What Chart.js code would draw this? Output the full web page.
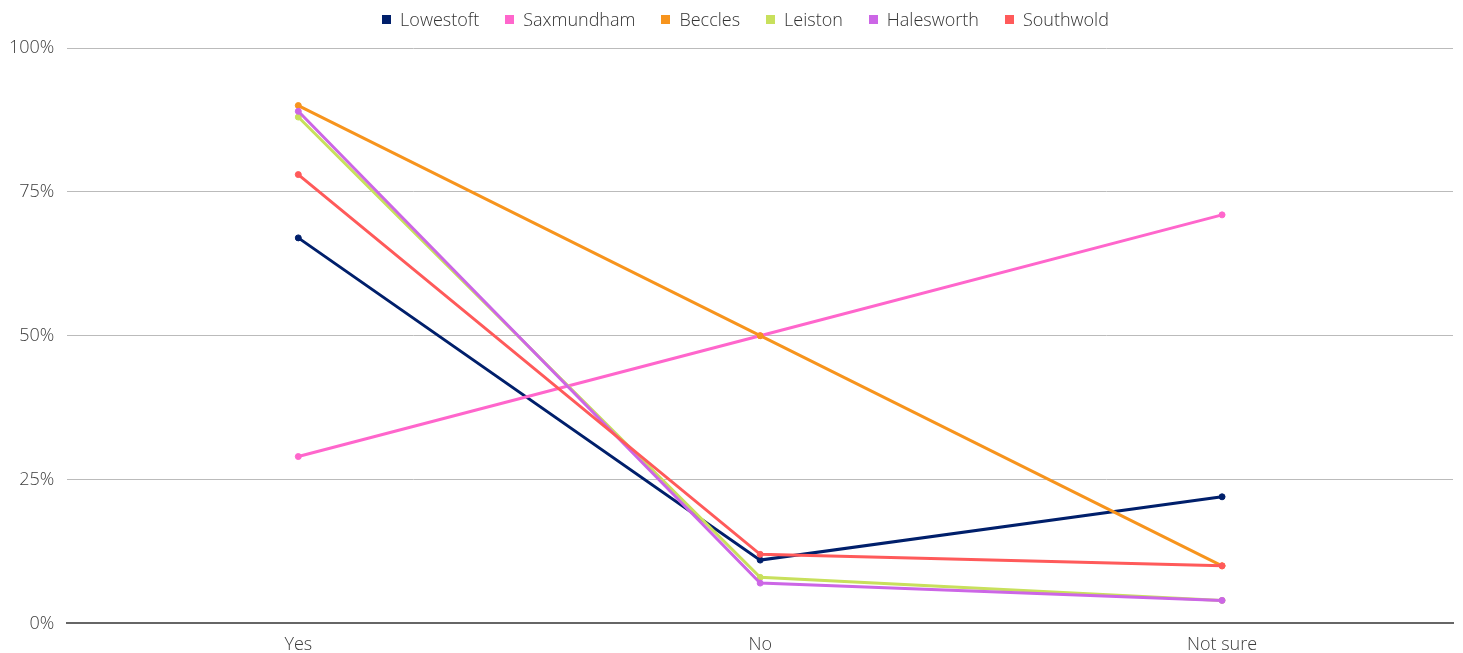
<!DOCTYPE html>
<html>
<head>
<meta charset="utf-8">
<script src="https://cdn.jsdelivr.net/npm/chart.js@4.4.1/dist/chart.umd.min.js"></script>
<style>
  html, body { margin: 0; padding: 0; background: #fff; }
  #wrap { position: relative; width: 1463px; height: 653px; }
  #legend {
    position: absolute; top: 8px; left: 28px; right: 0;
    display: flex; justify-content: center;
    font: 300 18px 'Open Sans', sans-serif; color: #333;
    line-height: 22px;
  }
  #legend .item { display: flex; align-items: center; margin: 0 13px; }
  #legend .box { width: 9px; height: 9px; margin-right: 9px; }
</style>
</head>
<body>
<div id="wrap">
  <div id="legend"></div>
  <canvas id="townChart"></canvas>
</div>
<script>
/* ================= DATA ================= */
const answers = ["Yes", "No", "Not sure"];

const lowestoft  = [67, 11, 22];
const saxmundham = [29, 50, 71];
const beccles    = [90, 50, 10];
const leiston    = [88, 8, 4];
const halesworth = [89, 7, 4];
const southwold  = [78, 12, 10];

const yTicks = [0, 25, 50, 75, 100];

/* ================= SERIES ================= */
const series = [
  { label: "Lowestoft",  data: lowestoft,  color: "#001f6b" },
  { label: "Saxmundham", data: saxmundham, color: "#ff66cc" },
  { label: "Beccles",    data: beccles,    color: "#f7941d" },
  { label: "Leiston",    data: leiston,    color: "#c8e05c" },
  { label: "Halesworth", data: halesworth, color: "#cc66e6" },
  { label: "Southwold",  data: southwold,  color: "#ff5a5a" }
];

/* ================= LEGEND ================= */
const legendEl = document.getElementById("legend");
series.forEach(s => {
  const item = document.createElement("div");
  item.className = "item";
  item.innerHTML = `<span class="box" style="background:${s.color}"></span><span>${s.label}</span>`;
  legendEl.appendChild(item);
});

/* ================= CHART ================= */
Chart.defaults.font.family = "'Open Sans', sans-serif";
Chart.defaults.font.size = 18;
Chart.defaults.font.weight = 300;
Chart.defaults.color = "#3c3c3c";

new Chart(document.getElementById("townChart"), {
  type: "line",
  data: {
    labels: answers,
    datasets: series.map((s, i) => ({
      label: s.label,
      data: s.data,
      borderColor: s.color,
      backgroundColor: s.color,
      borderWidth: 3,
      pointRadius: 3,
      pointBorderWidth: 1,
      pointHoverRadius: 5,
      tension: 0,
      // later towns sit on top
      order: series.length - i
    }))
  },
  options: {
    responsive: true,
    maintainAspectRatio: false,
    animation: false,
    layout: { padding: { left: -4, right: 10, top: 48, bottom: -14 } },
    plugins: {
      legend: { display: false }
    },
    scales: {
      x: {
        offset: true,
        grid: { display: false, drawTicks: false },
        border: { color: "#666", width: 2 },
        ticks: { padding: 11 }
      },
      y: {
        min: 0,
        max: 100,
        afterBuildTicks: axis => {
          axis.ticks = yTicks.map(v => ({ value: v }));
        },
        grid: { color: "#bbb", drawTicks: false },
        border: { display: false },
        ticks: {
          padding: 13,
          callback: v => v + "%"
        }
      }
    }
  }
});
</script>
</body>
</html>
